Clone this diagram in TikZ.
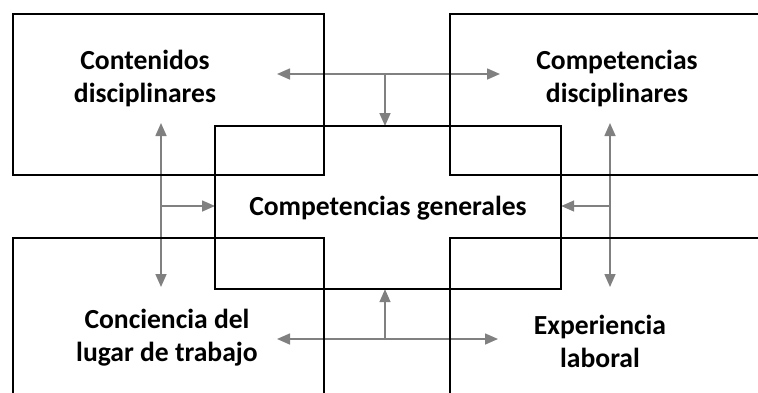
\documentclass[tikz,border=0pt]{standalone}
\usepackage{fontspec}
\setmainfont{Carlito}
\usetikzlibrary{arrows.meta}
\definecolor{arrowgray}{RGB}{128,128,128}
\begin{document}
\begin{tikzpicture}[x=1pt,y=-1pt,
  box/.style={draw=black, line width=2.2pt, inner sep=0pt, anchor=north west},
  lbl/.style={font=\bfseries\fontsize{27.6}{32.5}\selectfont, align=center, anchor=base, inner sep=0pt},
  conn/.style={draw=arrowgray, line width=1.6pt, -{Triangle[length=13pt,width=11pt]}},
  conntwo/.style={draw=arrowgray, line width=1.6pt, {Triangle[length=13pt,width=11pt]}-{Triangle[length=13pt,width=11pt]}}]
\useasboundingbox (0,0) rectangle (758,392);
\begin{scope}
\clip (0,0) rectangle (758,392);
% boxes (positions only, drawn later)
\path node[box, draw=none, minimum width=309pt, minimum height=159pt] (tl) at (13,14) {};
\path node[box, draw=none, minimum width=330pt, minimum height=159pt] (tr) at (450,14) {};
\path node[box, draw=none, minimum width=344pt, minimum height=161pt] (c) at (215,126) {};
\path node[box, draw=none, minimum width=309pt, minimum height=172pt] (bl) at (13,238) {};
\path node[box, draw=none, minimum width=330pt, minimum height=172pt] (br) at (450,238) {};
% connector coordinates
\coordinate (tA) at (277,74);
\coordinate (tB) at (500,74);
\coordinate (tJ) at (385,74);
\coordinate (lA) at (161,123);
\coordinate (lB) at (161,287);
\coordinate (lJ) at (161,206);
\coordinate (rA) at (610,123);
\coordinate (rB) at (610,287);
\coordinate (rJ) at (610,206);
\coordinate (bA) at (277,339);
\coordinate (bB) at (498,339);
\coordinate (bJ) at (385,339);
% connectors
\draw[conntwo] (tA) -- (tB);
\draw[conn] (tJ) -- (tJ |- c.north);
\draw[conntwo] (lA) -- (lB);
\draw[conn] (lJ) -- (c.west |- lJ);
\draw[conntwo] (rA) -- (rB);
\draw[conn] (rJ) -- (c.east |- rJ);
\draw[conntwo] (bA) -- (bB);
\draw[conn] (bJ) -- (bJ |- c.south);
% boxes drawn
\draw[line width=2.2pt] (tl.north west) rectangle (tl.south east);
\draw[line width=2.2pt] (tr.north west) rectangle (tr.south east);
\draw[line width=2.2pt] (c.north west) rectangle (c.south east);
\draw[line width=2.2pt] (bl.north west) rectangle (bl.south east);
\draw[line width=2.2pt] (br.north west) rectangle (br.south east);
\end{scope}
% labels (base anchor = baseline of the last line)
\node[lbl] (ttl) at (145,102) {Contenidos\\disciplinares};
\node[lbl] (ttr) at (617,102) {Competencias\\disciplinares};
\node[lbl] (tc) at (388,215) {Competencias generales};
\node[lbl] (tbl) at (167,361) {Conciencia del\\lugar de trabajo};
\node[lbl] (tbr) at (600,367) {Experiencia\\laboral};
\end{tikzpicture}
\end{document}
